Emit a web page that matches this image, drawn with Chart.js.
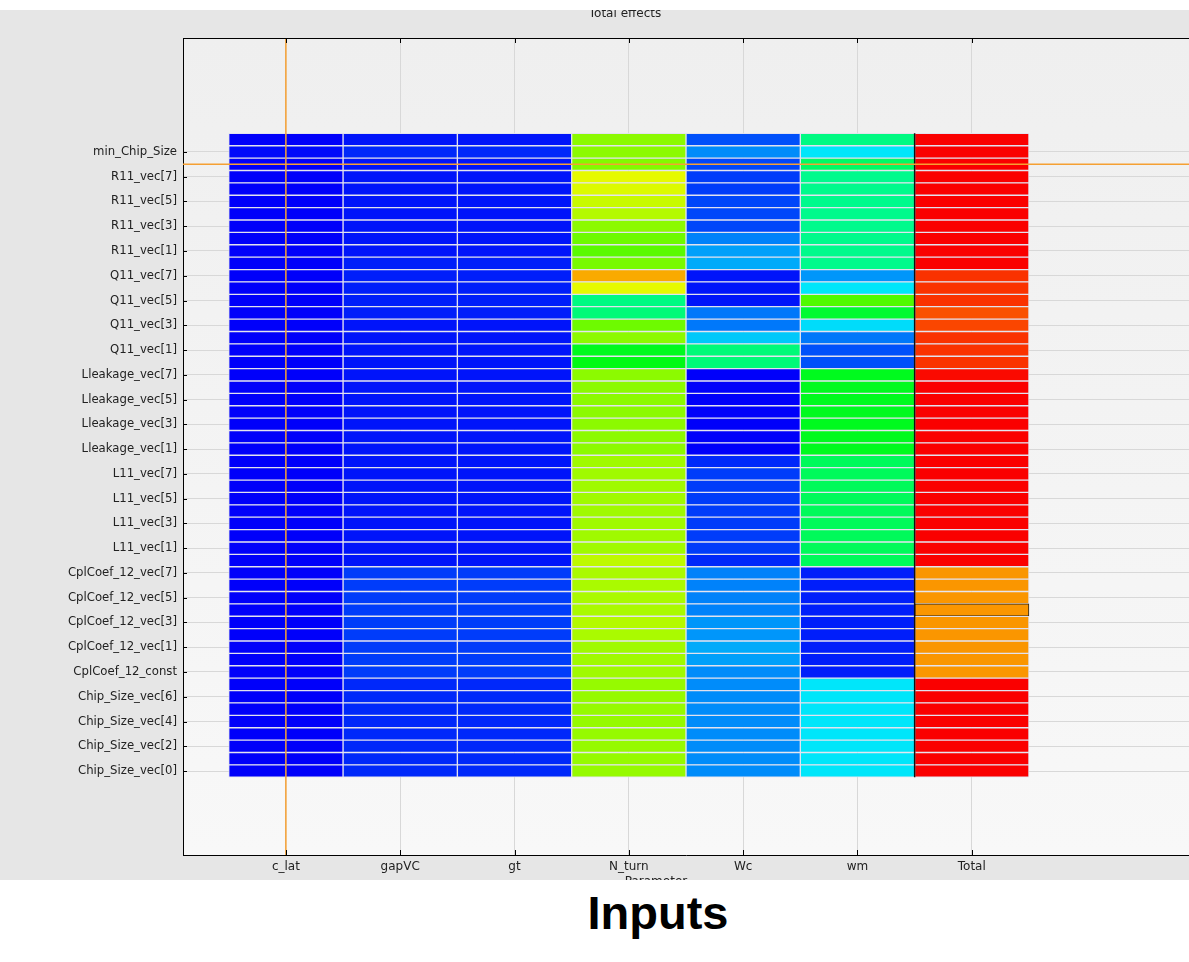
<!DOCTYPE html>
<html>
<head>
<meta charset="utf-8">
<script src="https://cdn.jsdelivr.net/npm/chart.js@4.4.0/dist/chart.umd.min.js"></script>
<style>
 body { margin: 0; background: #fff; width: 1189px; height: 962px; overflow: hidden; }
 #panel { position: absolute; left: 0; top: 10px; width: 1189px; height: 870px; background: #e6e6e6; }
 #inputs { position: absolute; left: 508px; top: 885px; width: 300px; text-align: center;
   font: bold 47px "Liberation Sans", Arial, sans-serif; color: #000; }
</style>
</head>
<body>
<div id="panel"><canvas id="heatChart" width="1189" height="870"></canvas></div>
<div id="inputs">Inputs</div>
<script>
// columns (x) and rows (y, listed top to bottom as in the picture)
const columns = ['c_lat', 'gapVC', 'gt', 'N_turn', 'Wc', 'wm', 'Total'];
const rowNames = [
 'n_layers', 'min_Chip_Size', 'R11_vec[8]',
 'R11_vec[7]', 'R11_vec[6]', 'R11_vec[5]', 'R11_vec[4]', 'R11_vec[3]', 'R11_vec[2]', 'R11_vec[1]', 'R11_vec[0]',
 'Q11_vec[7]', 'Q11_vec[6]', 'Q11_vec[5]', 'Q11_vec[4]', 'Q11_vec[3]', 'Q11_vec[2]', 'Q11_vec[1]', 'Q11_vec[0]',
 'Lleakage_vec[7]', 'Lleakage_vec[6]', 'Lleakage_vec[5]', 'Lleakage_vec[4]', 'Lleakage_vec[3]', 'Lleakage_vec[2]', 'Lleakage_vec[1]', 'Lleakage_vec[0]',
 'L11_vec[7]', 'L11_vec[6]', 'L11_vec[5]', 'L11_vec[4]', 'L11_vec[3]', 'L11_vec[2]', 'L11_vec[1]', 'L11_vec[0]',
 'CplCoef_12_vec[7]', 'CplCoef_12_vec[6]', 'CplCoef_12_vec[5]', 'CplCoef_12_vec[4]', 'CplCoef_12_vec[3]', 'CplCoef_12_vec[2]', 'CplCoef_12_vec[1]', 'CplCoef_12_vec[0]',
 'CplCoef_12_const',
 'Chip_Size_vec[7]', 'Chip_Size_vec[6]', 'Chip_Size_vec[5]', 'Chip_Size_vec[4]', 'Chip_Size_vec[3]', 'Chip_Size_vec[2]', 'Chip_Size_vec[1]', 'Chip_Size_vec[0]'
];

// total effect values (0..1), one per row, top to bottom
const cLat = [
 0.00, 0.01, 0.00, 0.00, 0.00, 0.00, 0.00, 0.00, 0.00, 0.00, 0.00,
 0.00, 0.00, 0.00, 0.00, 0.00, 0.00, 0.00, 0.00,
 0.00, 0.00, 0.00, 0.00, 0.00, 0.00, 0.00, 0.00,
 0.00, 0.00, 0.00, 0.00, 0.00, 0.00, 0.00, 0.00,
 0.00, 0.00, 0.00, 0.00, 0.00, 0.00, 0.00, 0.00, 0.00,
 0.00, 0.00, 0.00, 0.00, 0.00, 0.00, 0.00, 0.00
];
const gapVC = [
 0.02, 0.04, 0.02, 0.02, 0.02, 0.02, 0.02, 0.02, 0.02, 0.02, 0.03,
 0.03, 0.03, 0.03, 0.03, 0.02, 0.02, 0.02, 0.02,
 0.02, 0.02, 0.02, 0.02, 0.02, 0.02, 0.02, 0.02,
 0.02, 0.02, 0.02, 0.02, 0.02, 0.02, 0.02, 0.02,
 0.06, 0.06, 0.06, 0.06, 0.06, 0.06, 0.06, 0.06, 0.06,
 0.04, 0.04, 0.04, 0.04, 0.04, 0.04, 0.04, 0.04
];
const gt = [
 0.02, 0.04, 0.02, 0.02, 0.02, 0.02, 0.02, 0.02, 0.02, 0.02, 0.03,
 0.03, 0.03, 0.03, 0.03, 0.02, 0.02, 0.02, 0.02,
 0.02, 0.02, 0.02, 0.02, 0.02, 0.02, 0.02, 0.02,
 0.02, 0.02, 0.02, 0.02, 0.02, 0.02, 0.02, 0.02,
 0.06, 0.06, 0.06, 0.06, 0.06, 0.06, 0.06, 0.06, 0.06,
 0.04, 0.04, 0.04, 0.04, 0.04, 0.04, 0.04, 0.04
];
const nTurn = [
 0.64, 0.64, 0.63, 0.73, 0.72, 0.70, 0.68, 0.64, 0.61, 0.59, 0.62,
 0.83, 0.73, 0.37, 0.38, 0.61, 0.64, 0.47, 0.48,
 0.64, 0.64, 0.64, 0.64, 0.64, 0.64, 0.64, 0.66,
 0.66, 0.66, 0.66, 0.66, 0.66, 0.66, 0.66, 0.69,
 0.67, 0.67, 0.67, 0.67, 0.68, 0.67, 0.66, 0.66, 0.66,
 0.65, 0.65, 0.65, 0.65, 0.65, 0.65, 0.65, 0.65
];
const wc = [
 0.08, 0.14, 0.07, 0.06, 0.06, 0.07, 0.07, 0.07, 0.13, 0.16, 0.17,
 0.02, 0.02, 0.02, 0.12, 0.12, 0.20, 0.38, 0.38,
 0.00, 0.00, 0.00, 0.00, 0.00, 0.00, 0.00, 0.04,
 0.06, 0.06, 0.06, 0.06, 0.06, 0.06, 0.06, 0.04,
 0.13, 0.13, 0.13, 0.13, 0.15, 0.15, 0.17, 0.16, 0.14,
 0.14, 0.14, 0.14, 0.14, 0.14, 0.14, 0.14, 0.14
];
const wm = [
 0.37, 0.23, 0.40, 0.36, 0.36, 0.36, 0.36, 0.36, 0.36, 0.36, 0.36,
 0.15, 0.23, 0.58, 0.45, 0.22, 0.12, 0.08, 0.08,
 0.47, 0.47, 0.47, 0.47, 0.47, 0.47, 0.47, 0.41,
 0.41, 0.41, 0.41, 0.41, 0.41, 0.41, 0.41, 0.41,
 0.03, 0.03, 0.03, 0.03, 0.03, 0.03, 0.03, 0.03, 0.03,
 0.23, 0.23, 0.23, 0.23, 0.23, 0.23, 0.23, 0.23
];
const total = [
 1.00, 1.00, 1.00, 1.00, 1.00, 1.00, 1.00, 1.00, 1.00, 1.00, 1.00,
 0.95, 0.95, 0.95, 0.92, 0.93, 0.95, 0.95, 0.95,
 0.99, 1.00, 1.00, 1.00, 1.00, 1.00, 1.00, 1.00,
 1.00, 1.00, 1.00, 1.00, 1.00, 1.00, 1.00, 1.00,
 0.85, 0.85, 0.85, 0.85, 0.85, 0.85, 0.85, 0.85, 0.85,
 1.00, 1.00, 1.00, 1.00, 1.00, 1.00, 1.00, 1.00
];
const columnValues = [cLat, gapVC, gt, nTurn, wc, wm, total];

// highlighted cell and crosshair cell
const selectedCell = ['Total', 'CplCoef_12_vec[4]'];
const crossCell = ['c_lat', 'R11_vec[8]'];

const nRows = rowNames.length;
const rowY = name => nRows - 1 - rowNames.indexOf(name);

// blue -> cyan -> green -> yellow -> red
function effectColor(v) {
  return 'hsl(' + (240 * (1 - v)).toFixed(1) + ', 100%, 49%)';
}

const datasets = columns.map((col, ci) => ({
  label: col,
  data: columnValues[ci].map((v, r) => ({ x: [ci - 0.5, ci + 0.5], y: nRows - 1 - r, v: v })),
  backgroundColor: columnValues[ci].map(effectColor),
  borderColor: ctx => (col === selectedCell[0] && ctx.raw && ctx.raw.y === rowY(selectedCell[1])) ? '#222' : 'rgba(225,225,238,0.9)',
  borderWidth: 1,
  borderSkipped: false,
  grouped: false,
  barPercentage: 1,
  categoryPercentage: 1
}));

const decor = {
  id: 'decor',
  beforeDraw(chart) {
    const { ctx, chartArea: a } = chart;
    ctx.save();
    const g = ctx.createLinearGradient(0, a.top, 0, a.bottom);
    g.addColorStop(0, '#efefef');
    g.addColorStop(1, '#f8f8f8');
    ctx.fillStyle = g;
    ctx.fillRect(a.left, a.top, a.right - a.left, a.bottom - a.top);
    ctx.restore();
  },
  afterDatasetsDraw(chart) {
    const { ctx, chartArea: a, scales: { x, y } } = chart;
    ctx.save();
    // black line before Total column
    const xs = x.getPixelForValue(columns.length - 1.5);
    ctx.strokeStyle = '#111';
    ctx.lineWidth = 1.5;
    ctx.beginPath();
    ctx.moveTo(xs, y.getPixelForValue(nRows - 0.5));
    ctx.lineTo(xs, y.getPixelForValue(-0.5));
    ctx.stroke();
    // crosshair
    const cx = x.getPixelForValue(columns.indexOf(crossCell[0]));
    const cy = y.getPixelForValue(rowY(crossCell[1]));
    ctx.strokeStyle = '#f5a033';
    ctx.lineWidth = 1.5;
    ctx.beginPath();
    ctx.moveTo(cx, a.top); ctx.lineTo(cx, a.bottom);
    ctx.moveTo(a.left, cy); ctx.lineTo(a.right, cy);
    ctx.stroke();
    // frame and inner ticks
    ctx.strokeStyle = '#000';
    ctx.lineWidth = 1;
    ctx.beginPath();
    ctx.moveTo(a.left, a.top + 0.5); ctx.lineTo(a.right, a.top + 0.5);
    x.ticks.forEach(t => {
      const px = Math.round(x.getPixelForValue(t.value)) + 0.5;
      ctx.moveTo(px, a.top); ctx.lineTo(px, a.top + 5);
      ctx.moveTo(px, a.bottom); ctx.lineTo(px, a.bottom - 5);
    });
    y.ticks.forEach(t => {
      const py = Math.round(y.getPixelForValue(t.value)) + 0.5;
      ctx.moveTo(a.left, py); ctx.lineTo(a.left + 4, py);
    });
    ctx.stroke();
    // titles
    ctx.fillStyle = '#222';
    ctx.font = '12px "DejaVu Sans"';
    ctx.textAlign = 'center';
    ctx.textBaseline = 'alphabetic';
    ctx.fillText('Total effects', 625, 7);
    ctx.textBaseline = 'top';
    ctx.fillText('Parameter', 656, 866);
    ctx.restore();
  }
};

const heatChart = new Chart(document.getElementById('heatChart').getContext('2d'), {
  type: 'bar',
  data: { datasets: datasets },
  options: {
    indexAxis: 'y',
    responsive: false,
    animation: false,
    layout: { padding: { top: 28, left: 0, right: 0, bottom: 0 } },
    plugins: { legend: { display: false }, tooltip: { enabled: false }, title: { display: false } },
    scales: {
      x: {
        type: 'linear',
        min: -0.9,
        max: 7.9,
        offset: false,
        afterBuildTicks: scale => { scale.ticks = columns.map((c, i) => ({ value: i })); },
        afterFit: scale => { scale.height = 25; },
        grid: { color: '#d8d8d8', drawTicks: false, offset: false },
        border: { color: '#000', width: 1 },
        ticks: {
          padding: 5,
          color: '#222',
          font: { family: 'DejaVu Sans', size: 12 },
          callback: v => columns[v]
        }
      },
      y: {
        type: 'linear',
        min: -6.78,
        max: 59.2,
        offset: false,
        afterBuildTicks: scale => {
          scale.ticks = rowNames.map((n, r) => nRows - 1 - r).filter(v => v % 2 === 0).map(v => ({ value: v }));
        },
        afterFit: scale => { scale.width = 183; },
        grid: { color: '#d8d8d8', drawTicks: false, offset: false },
        border: { color: '#000', width: 1 },
        ticks: {
          padding: 6,
          color: '#222',
          font: { family: 'DejaVu Sans', size: 11.7 },
          callback: v => rowNames[nRows - 1 - v]
        }
      }
    }
  },
  plugins: [decor]
});
</script>
</body>
</html>
